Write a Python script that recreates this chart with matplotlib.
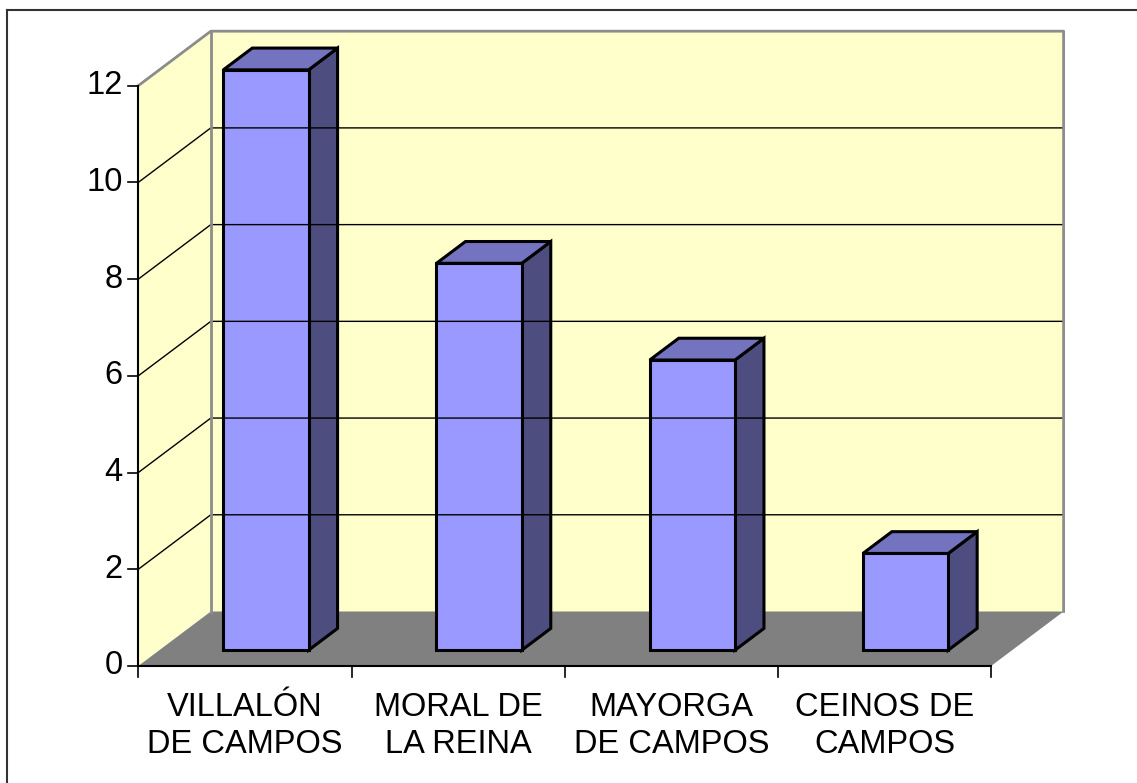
import matplotlib
matplotlib.use("Agg")
import matplotlib.pyplot as plt
from matplotlib.patches import Polygon
from matplotlib.lines import Line2D

# Datos del grafico
municipios = ["VILLALÓN\nDE CAMPOS", "MORAL DE\nLA REINA", "MAYORGA\nDE CAMPOS", "CEINOS DE\nCAMPOS"]
valores = [12, 8, 6, 2]
marcas_y = [0, 2, 4, 6, 8, 10, 12]

plt.rcParams['font.family'] = ['Liberation Sans', 'DejaVu Sans']

W, H = 1137, 783
fig = plt.figure(figsize=(W / 100, H / 100), dpi=100)
ax = fig.add_axes([0, 0, 1, 1])
ax.axis('off')

# escala: pixeles por unidad
X0, PXC = 138.3, 213.2      # origen x y pixeles por categoria
Y0, PXV = 666.0, 48.36      # origen y (desde arriba) y pixeles por unidad
ax.set_xlim(-X0 / PXC, (W - X0) / PXC)
ax.set_ylim((Y0 - H) / PXV, Y0 / PXV)

# profundidad del grafico 3D
DX = 72.5 / PXC
DY = 54.5 / PXV
ymax = max(marcas_y)
n = len(valores)


def proy(x, y, d):
    return (x + d * DX, y + d * DY)


pared = '#FFFFCC'
# pared del fondo, pared izquierda y suelo
ax.add_patch(Polygon([proy(0, 0, 1), proy(n, 0, 1), proy(n, ymax, 1), proy(0, ymax, 1)],
                     closed=True, fc=pared, ec='none'))
ax.add_patch(Polygon([proy(0, 0, 0), proy(0, 0, 1), proy(0, ymax, 1), proy(0, ymax, 0)],
                     closed=True, fc=pared, ec='none'))
ax.add_patch(Polygon([proy(0, 0, 0), proy(n, 0, 0), proy(n, 0, 1), proy(0, 0, 1)],
                     closed=True, fc='#808080', ec='none'))

# lineas de division
for v in marcas_y[1:-1]:
    a, b = proy(0, v, 0), proy(0, v, 1)
    c = proy(n, v, 1)
    ax.plot([a[0], b[0], c[0]], [a[1], b[1], c[1]], color='black', lw=1.0)

# bordes grises de las paredes
gris = '#8C8C8C'
p = [proy(0, ymax, 0), proy(0, ymax, 1), proy(n, ymax, 1), proy(n, 0, 1)]
ax.plot([q[0] for q in p], [q[1] for q in p], color=gris, lw=2.0)
a, b = proy(0, 0, 1), proy(0, ymax, 1)
ax.plot([a[0], b[0]], [a[1], b[1]], color=gris, lw=2.0)

# ejes
ax.plot([0, 0], [0, ymax], color='black', lw=1.5)
ax.plot([0, n], [0, 0], color='black', lw=1.5)
for v in marcas_y:
    ax.plot([-10 / PXC, 0], [v, v], color='black', lw=1.2)
    ax.text(-15.5 / PXC, v, str(v), ha='right', va='center', fontsize=23.5)
for i in range(n + 1):
    ax.plot([i, i], [0, -10.5 / PXV], color='black', lw=1.2)

# barras
d1, d2 = 0.29, 0.69
for i, v in enumerate(valores):
    xl, xr = i + 0.3, i + 0.7
    frente = [proy(xl, 0, d1), proy(xr, 0, d1), proy(xr, v, d1), proy(xl, v, d1)]
    techo = [proy(xl, v, d1), proy(xr, v, d1), proy(xr, v, d2), proy(xl, v, d2)]
    lado = [proy(xr, 0, d1), proy(xr, 0, d2), proy(xr, v, d2), proy(xr, v, d1)]
    for pts, col in [(lado, '#4D4D80'), (techo, '#7373C0'), (frente, '#9999FF')]:
        ax.add_patch(Polygon(pts, closed=True, fc=col, ec='black', lw=2.2, joinstyle='miter'))

# etiquetas de categorias
for i, nombre in enumerate(municipios):
    for k, linea in enumerate(nombre.split('\n')):
        ax.text(i + 0.5, -(715.7 + 37.5 * k - Y0) / PXV, linea, ha='center', va='baseline',
                fontsize=23.5)

# borde exterior del grafico
fig.add_artist(Line2D([7 / W, 1], [1 - 9.7 / H, 1 - 9.7 / H], transform=fig.transFigure,
                      color='#333333', lw=1.5))
fig.add_artist(Line2D([7 / W, 7 / W], [0, 1 - 9.7 / H], transform=fig.transFigure,
                      color='#333333', lw=1.5))

fig.savefig('out.png', dpi=100)
